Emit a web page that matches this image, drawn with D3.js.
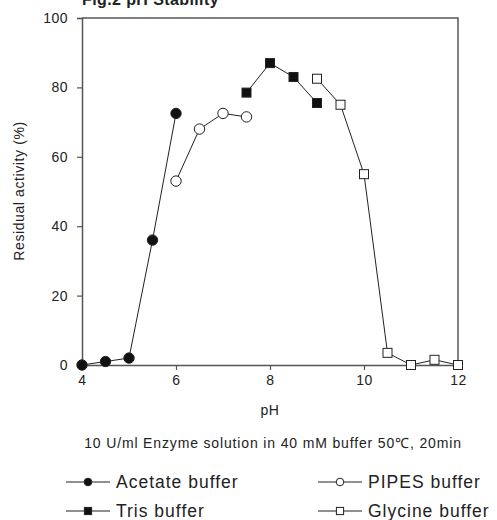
<!DOCTYPE html>
<html>
<head>
<meta charset="utf-8">
<script src="https://cdn.jsdelivr.net/npm/d3@7"></script>
<style>
  body { margin: 0; background: #fff; }
  text { font-family: "Liberation Sans", Arial, sans-serif; fill: #222; }
</style>
</head>
<body>
<div id="chart"></div>
<script>
// pH stability data
var acetatePH = [4, 4.5, 5, 5.5, 6];
var acetateVal = [0, 1, 2, 36, 72.5];
var pipesPH = [6, 6.5, 7, 7.5];
var pipesVal = [53, 68, 72.5, 71.5];
var trisPH = [7.5, 8, 8.5, 9];
var trisVal = [78.5, 87, 83, 75.5];
var glycinePH = [9, 9.5, 10, 10.5, 11, 11.5, 12];
var glycineVal = [82.5, 75, 55, 3.5, 0, 1.5, 0];

var xTicks = [4, 6, 8, 10, 12];
var yTicks = [0, 20, 40, 60, 80, 100];

var series = [
  { name: "Acetate buffer", x: acetatePH, y: acetateVal, shape: "circle", fill: "#111" },
  { name: "PIPES buffer", x: pipesPH, y: pipesVal, shape: "circle", fill: "#fff" },
  { name: "Tris buffer", x: trisPH, y: trisVal, shape: "square", fill: "#111" },
  { name: "Glycine buffer", x: glycinePH, y: glycineVal, shape: "square", fill: "#fff" }
];

var W = 497, H = 520;
var svg = d3.select("#chart").append("svg")
  .attr("width", W)
  .attr("height", H);

var x = d3.scaleLinear().domain([4, 12]).range([82, 458]);
var y = d3.scaleLinear().domain([0, 100]).range([365, 18]);

// frame (top + right)
svg.append("path")
  .attr("d", "M" + x(4) + "," + y(100) + "H" + x(12) + "V" + y(0))
  .attr("fill", "none")
  .attr("stroke", "#555")
  .attr("stroke-width", 1.5);

var xAxis = svg.append("g")
  .attr("transform", "translate(0," + y(0) + ")")
  .call(d3.axisBottom(x).tickValues(xTicks).tickSize(5).tickPadding(5));
var yAxis = svg.append("g")
  .attr("transform", "translate(" + x(4) + ",0)")
  .call(d3.axisLeft(y).tickValues(yTicks).tickSize(5).tickPadding(9));

[xAxis, yAxis].forEach(function(g) {
  g.select(".domain").attr("stroke", "#555").attr("stroke-width", 1.5);
  g.selectAll(".tick line").attr("stroke", "#555").attr("stroke-width", 1.2);
  g.selectAll(".tick text")
    .style("font-family", "'Liberation Sans', Arial, sans-serif")
    .style("font-size", "14px")
    .style("letter-spacing", "0.5px")
    .attr("fill", "#222");
});

// lines
var line = d3.line()
  .x(function(d) { return x(d[0]); })
  .y(function(d) { return y(d[1]); });

series.forEach(function(s) {
  var pts = s.x.map(function(v, i) { return [v, s.y[i]]; });
  svg.append("path")
    .datum(pts)
    .attr("d", line)
    .attr("fill", "none")
    .attr("stroke", "#222")
    .attr("stroke-width", 1);
});

function drawMarker(g, s, cx, cy, big) {
  if (s.shape == "circle") {
    g.append("circle")
      .attr("cx", cx).attr("cy", cy)
      .attr("r", big ? 5.2 : 3.8)
      .attr("fill", s.fill)
      .attr("stroke", "#222")
      .attr("stroke-width", 1);
  } else {
    var h = big ? 4.5 : 3.6;
    g.append("rect")
      .attr("x", cx - h).attr("y", cy - h)
      .attr("width", 2 * h).attr("height", 2 * h)
      .attr("fill", s.fill)
      .attr("stroke", "#222")
      .attr("stroke-width", 1);
  }
}

series.forEach(function(s) {
  var g = svg.append("g");
  s.x.forEach(function(v, i) {
    drawMarker(g, s, x(v), y(s.y[i]), true);
  });
});

// title (cut off at the top, as in the source)
svg.append("text")
  .attr("x", 82).attr("y", 5)
  .style("font-size", "16px")
  .style("font-weight", "bold")
  .style("letter-spacing", "0.4px")
  .text("Fig.2 pH Stability");

// axis titles
svg.append("text")
  .attr("x", 270).attr("y", 415)
  .attr("text-anchor", "middle")
  .style("font-size", "14px")
  .style("letter-spacing", "0.5px")
  .text("pH");

svg.append("text")
  .attr("transform", "translate(24,191) rotate(-90)")
  .attr("text-anchor", "middle")
  .style("font-size", "14px")
  .style("letter-spacing", "0.6px")
  .text("Residual activity (%)");

svg.append("text")
  .attr("x", 273).attr("y", 448)
  .attr("text-anchor", "middle")
  .style("font-size", "14px")
  .style("letter-spacing", "0.85px")
  .text("10 U/ml Enzyme solution in 40 mM buffer 50\u2103, 20min");

// legend
var legendPos = [[66, 482], [318, 482], [66, 511], [318, 511]];
series.forEach(function(s, i) {
  var lx = legendPos[i][0], ly = legendPos[i][1];
  var g = svg.append("g");
  g.append("line")
    .attr("x1", lx).attr("x2", lx + 44)
    .attr("y1", ly).attr("y2", ly)
    .attr("stroke", "#222").attr("stroke-width", 1.2);
  drawMarker(g, s, lx + 22, ly, false);
  g.append("text")
    .attr("x", lx + 50).attr("y", ly + 6)
    .style("font-size", "17.5px")
    .style("letter-spacing", "1px")
    .text(s.name);
});
</script>
</body>
</html>
